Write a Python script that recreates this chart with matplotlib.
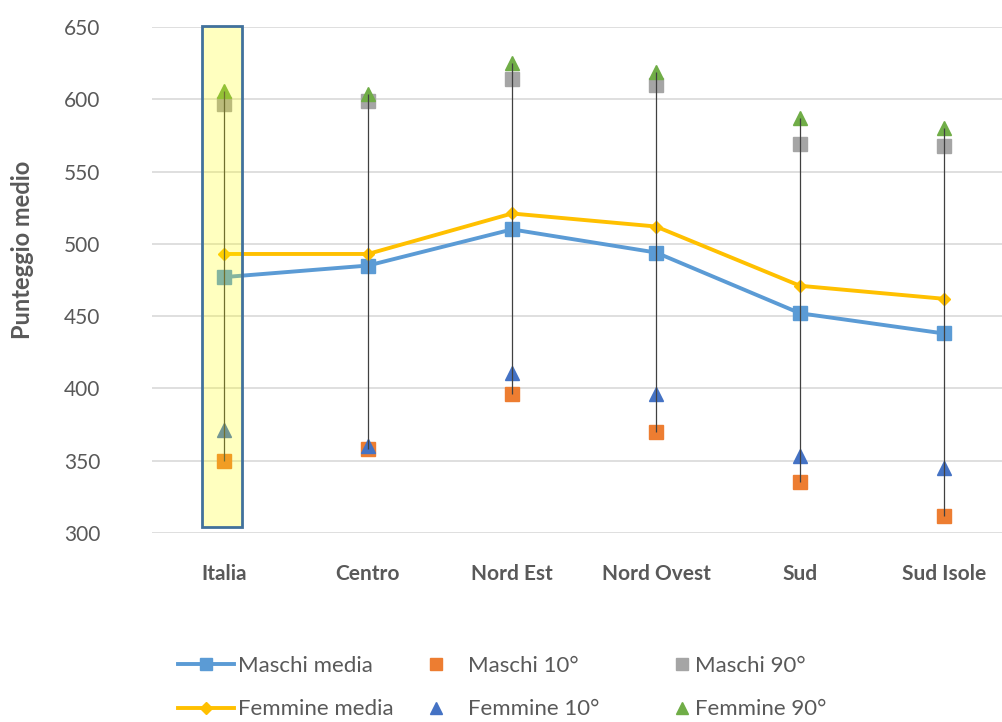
import matplotlib.pyplot as plt
from matplotlib.patches import Rectangle
from matplotlib.lines import Line2D

aree = ["Italia", "Centro", "Nord Est", "Nord Ovest", "Sud", "Sud Isole"]
maschi_media = [477, 485, 510, 494, 452, 438]
femmine_media = [493, 493, 521, 512, 471, 462]
maschi_10 = [350, 358, 396, 370, 335, 312]
maschi_90 = [597, 599, 614, 610, 569, 568]
femmine_10 = [371, 360, 411, 396, 353, 345]
femmine_90 = [606, 604, 625, 619, 587, 580]

plt.rcParams['font.family'] = ['Lato', 'DejaVu Sans']
grey_txt = "#595959"

fig = plt.figure(figsize=(10.03, 7.22), dpi=100)
ax = fig.add_axes([152 / 1003, 189 / 722, 864 / 1003, 506 / 722])
x = list(range(len(aree)))

# high-low lines across all series
tutti = list(zip(maschi_media, femmine_media, maschi_10, maschi_90, femmine_10, femmine_90))
lo = [min(v) for v in tutti]
hi = [max(v) for v in tutti]
ax.vlines(x, lo, hi, color="#404040", lw=0.9, zorder=5)

ax.plot(x, maschi_media, color="#5B9BD5", lw=2.8, marker="s", ms=10, zorder=3)
ax.plot(x, femmine_media, color="#FFC000", lw=2.8, marker="D", ms=6, zorder=3)
ax.plot(x, maschi_10, ls="none", marker="s", ms=10, color="#ED7D31", zorder=4)
ax.plot(x, maschi_90, ls="none", marker="s", ms=10, color="#A5A5A5", zorder=4)
ax.plot(x, femmine_10, ls="none", marker="^", ms=10, color="#4472C4", zorder=4)
ax.plot(x, femmine_90, ls="none", marker="^", ms=10, color="#70AD47", zorder=4)

# highlight on the national value
ax.add_patch(Rectangle((-0.155, 304), 0.278, 347, facecolor=(1, 1, 0, 0.25),
                       edgecolor="#41719C", lw=2, zorder=6, clip_on=False))

ax.set_xlim(-0.5, 5.5)
ax.set_ylim(300, 650)
ax.set_yticks(range(300, 651, 50))
ax.set_xticks(x)
ax.set_xticklabels(aree, fontweight="bold")
ax.tick_params(axis="y", length=0, pad=37, labelsize=15, labelcolor=grey_txt)
ax.tick_params(axis="x", length=0, pad=22, labelsize=15, labelcolor=grey_txt)
ax.grid(axis="y", color="#D9D9D9", lw=1.2)
for s in ax.spines.values():
    s.set_visible(False)
ax.set_axisbelow(True)
fig.text(23 / 1003, 1 - 250 / 722, "Punteggio medio", rotation=90, ha="center", va="center",
         fontsize=17, fontweight="bold", color=grey_txt)

# legend in three columns
def h(**kw):
    return Line2D([], [], **kw)

cols = [
    ([h(color="#5B9BD5", lw=2.8, marker="s", ms=9), h(color="#FFC000", lw=2.8, marker="D", ms=6)],
     ["Maschi media", "Femmine media"], 178, 2.5),
    ([h(ls="none", color="#ED7D31", marker="s", ms=9), h(ls="none", color="#4472C4", marker="^", ms=9)],
     ["Maschi 10°", "Femmine 10°"], 408, 2.5),
    ([h(ls="none", color="#A5A5A5", marker="s", ms=9), h(ls="none", color="#70AD47", marker="^", ms=9)],
     ["Maschi 90°", "Femmine 90°"], 673, 0.8),
]
for handles, labels, px, hl in cols:
    fig.legend(handles, labels, loc="upper left", bbox_to_anchor=(px / 1003, 1 - 656 / 722),
               frameon=False, fontsize=16, handlelength=hl, handletextpad=0.2,
               labelspacing=1.05, borderpad=0, borderaxespad=0, labelcolor=grey_txt)

fig.savefig("out.png", dpi=100)
